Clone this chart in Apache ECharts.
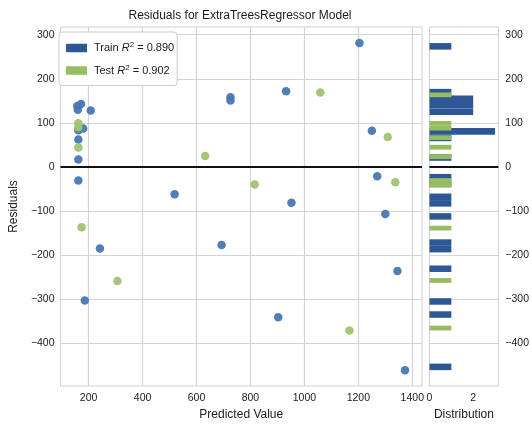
<!DOCTYPE html>
<html>
<head>
<meta charset="utf-8">
<script src="https://cdn.jsdelivr.net/npm/echarts@6/dist/echarts.min.js"></script>
<style>
  html, body { margin: 0; padding: 0; background: #ffffff; }
  #chart { width: 532px; height: 429px; }
</style>
</head>
<body>
<div id="chart"></div>
<script>
// Residuals of the ExtraTreesRegressor: predicted value vs. (actual - predicted)
const trainPredicted = [172, 158, 160, 208, 180, 162, 162, 162, 162, 519, 726, 726,
                        932, 1204, 1250, 1270, 952, 1300, 242, 693, 186, 1345, 903, 1373];
const trainResiduals = [143, 138, 130, 128, 87, 83, 62, 17, -31, -62, 158, 151,
                        172, 281, 82, -21, -81, -107, -185, -177, -303, -236, -341, -461];
const testPredicted = [162, 162, 162, 632, 816, 1059, 1309, 1337, 174, 307, 1167];
const testResiduals = [99, 90, 44, 25, -40, 169, 68, -35, -137, -259, -371];

const trainR2 = '0.890';
const testR2 = '0.902';

const xTicks = [200, 400, 600, 800, 1000, 1200, 1400];
const yTicks = [-400, -300, -200, -100, 0, 100, 200, 300];
const distTicks = [0, 2];
const histBins = 50;

const trainColor = '#2d5895';
const testColor = '#97bd62';
const trainPointColor = '#4678b2';
const testPointColor = '#a0c372';
const FONT = 'Liberation Sans, Arial, sans-serif';
const TEXT = '#1b1b1b';

// Frequency histogram of a residual list, as [count, binLow, binHigh]
function histogram(values, bins) {
  const lo = Math.min(...values);
  const hi = Math.max(...values);
  const w = (hi - lo) / bins;
  const counts = new Array(bins).fill(0);
  values.forEach(v => {
    let k = Math.floor((v - lo) / w);
    if (k >= bins) k = bins - 1;
    counts[k] += 1;
  });
  const out = [];
  counts.forEach((c, k) => { if (c > 0) out.push([c, lo + k * w, lo + (k + 1) * w]); });
  return out;
}

const pairs = (xs, ys) => xs.map((x, i) => [x, ys[i]]);
const plainNumber = v => String(v).replace('-', '\u2212');

function histSeries(name, values, color, z) {
  return {
    name: name,
    type: 'custom',
    xAxisIndex: 1,
    yAxisIndex: 1,
    z: z,
    silent: true,
    encode: { x: 0, y: [1, 2] },
    data: histogram(values, histBins),
    renderItem(params, api) {
      const a = api.coord([0, api.value(1)]);
      const b = api.coord([api.value(0), api.value(2)]);
      return {
        type: 'rect',
        shape: { x: a[0], y: b[1], width: b[0] - a[0], height: a[1] - b[1] },
        style: { fill: color }
      };
    }
  };
}

const zeroLine = {
  silent: true,
  symbol: ['none', 'none'],
  label: { show: false },
  lineStyle: { color: '#111111', width: 2, type: 'solid' },
  data: [{ yAxis: 0 }],
  animation: false
};

const gridLine = { show: true, lineStyle: { color: '#d4d4d4', width: 1.2 } };
const labelStyle = { color: TEXT, fontFamily: FONT, fontSize: 10.5, formatter: plainNumber };
const nameStyle = { color: TEXT, fontFamily: FONT, fontSize: 12 };

const legendRich = {
  n: { fontFamily: FONT, fontSize: 11, color: TEXT, lineHeight: 14 },
  i: { fontFamily: FONT, fontSize: 11, color: TEXT, fontStyle: 'italic', lineHeight: 14 },
  s: { fontFamily: FONT, fontSize: 8, color: TEXT, lineHeight: 14, verticalAlign: 'top', padding: [0, 0, 6, 0] }
};

const chart = echarts.init(document.getElementById('chart'), null, { renderer: 'canvas' });
chart.setOption({
  animation: false,
  backgroundColor: '#ffffff',
  title: {
    text: 'Residuals for ExtraTreesRegressor Model',
    left: 240,
    top: 10,
    padding: 0,
    textAlign: 'center',
    textStyle: { color: TEXT, fontFamily: FONT, fontSize: 12, fontWeight: 'normal' }
  },
  legend: {
    data: [
      { name: 'Train', itemStyle: { color: trainColor, opacity: 1 } },
      { name: 'Test', itemStyle: { color: testColor, opacity: 1 } }
    ],
    orient: 'vertical',
    left: 59,
    top: 32,
    padding: [9, 3, 8, 7],
    itemGap: 8.5,
    itemWidth: 21,
    itemHeight: 8.5,
    icon: 'rect',
    backgroundColor: '#ffffff',
    borderColor: '#cccccc',
    borderWidth: 1,
    borderRadius: 3,
    textStyle: { rich: legendRich, padding: [0, 0, 0, 2] },
    formatter: name => {
      const r2 = name === 'Train' ? trainR2 : testR2;
      return '{n|' + name + ' }{i|R}{s|2}{n| = ' + r2 + '}';
    }
  },
  grid: [
    { left: 58, top: 27, width: 364, height: 359, show: true, borderColor: '#d0d0d0', borderWidth: 1 },
    { left: 429.5, top: 27, width: 71, height: 359, show: true, borderColor: '#d0d0d0', borderWidth: 1 }
  ],
  xAxis: [
    {
      type: 'value', gridIndex: 0, min: 96, max: 1436,
      axisLine: { show: false },
      axisTick: { show: false, customValues: xTicks },
      axisLabel: { ...labelStyle, margin: 7, customValues: xTicks },
      splitLine: gridLine,
      name: 'Predicted Value', nameLocation: 'middle', nameGap: 21, nameTextStyle: nameStyle
    },
    {
      type: 'value', gridIndex: 1, min: 0, max: 3.15, interval: 2,
      axisLine: { show: false },
      axisTick: { show: false, customValues: distTicks },
      axisLabel: { ...labelStyle, margin: 7, customValues: distTicks, hideOverlap: false },
      splitLine: { show: false },
      name: 'Distribution', nameLocation: 'middle', nameGap: 21, nameTextStyle: nameStyle
    }
  ],
  yAxis: [
    {
      type: 'value', gridIndex: 0, min: -497, max: 317.5,
      axisLine: { show: false },
      axisTick: { show: false, customValues: yTicks },
      axisLabel: { ...labelStyle, margin: 6, customValues: yTicks },
      splitLine: gridLine,
      name: 'Residuals', nameLocation: 'middle', nameGap: 26, nameTextStyle: nameStyle
    },
    {
      type: 'value', gridIndex: 1, min: -497, max: 317.5, position: 'right',
      axisLine: { show: false },
      axisTick: { show: false, customValues: yTicks },
      axisLabel: { ...labelStyle, margin: 7, customValues: yTicks },
      splitLine: gridLine
    }
  ],
  series: [
    {
      name: 'Train',
      type: 'scatter',
      xAxisIndex: 0, yAxisIndex: 0,
      symbolSize: 8.5,
      itemStyle: { color: trainPointColor, opacity: 0.95 },
      data: pairs(trainPredicted, trainResiduals),
      z: 3
    },
    {
      name: 'Test',
      type: 'scatter',
      xAxisIndex: 0, yAxisIndex: 0,
      symbolSize: 8.5,
      itemStyle: { color: testPointColor, opacity: 0.95 },
      data: pairs(testPredicted, testResiduals),
      markLine: zeroLine,
      z: 4
    },
    histSeries('Train distribution', trainResiduals, trainColor, 3),
    Object.assign(histSeries('Test distribution', testResiduals, testColor, 4), { markLine: zeroLine })
  ]
});
</script>
</body>
</html>
